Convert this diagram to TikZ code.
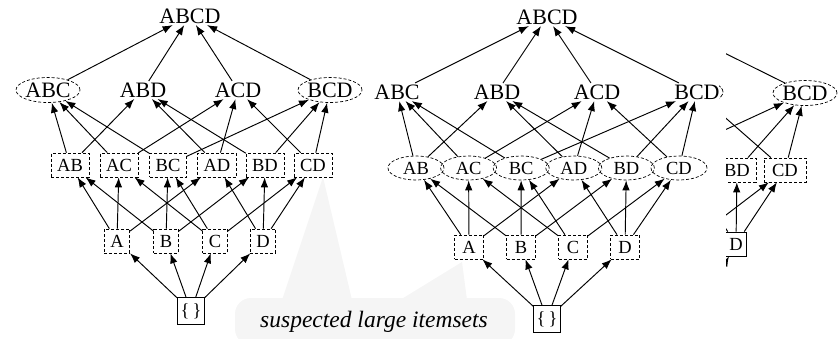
\documentclass[tikz,border=0pt]{standalone}
\usepackage{fontspec}
\setmainfont{Liberation Serif}
\usetikzlibrary{arrows.meta,shapes.geometric}

% edges of the itemset lattice over {A,B,C,D}; #1 is the prefix of the node names
\newcommand\latticeedges[1]{%
  \foreach \s/\t in {ABC/ABCD, ABD/ABCD, ACD/ABCD, BCD/ABCD,
                     AB/ABC, AB/ABD, AC/ABC, AC/ACD, BC/ABC, BC/BCD,
                     AD/ABD, AD/ACD, BD/ABD, BD/BCD, CD/ACD, CD/BCD,
                     A/AB, A/AC, A/AD, B/AB, B/BC, B/BD,
                     C/AC, C/BC, C/CD, D/AD, D/BD, D/CD,
                     E/A, E/B, E/C, E/D}
    \draw[edge] (#1\s) -- (#1\t);%
}

\begin{document}
\begin{tikzpicture}[x=1pt,y=1pt,
  big/.style={font=\fontsize{22}{22}\selectfont},
  small/.style={font=\fontsize{18.5}{18.5}\selectfont},
  plain/.style={inner sep=1.5pt},
  hidden/.style={inner sep=0pt, minimum width=48pt, minimum height=20pt},
  dashline/.style={draw, dash pattern=on 3pt off 2pt, line width=0.7pt},
  dbox/.style={dashline, rectangle, inner xsep=6pt, inner ysep=0pt, minimum height=24pt},
  dell/.style={dashline, ellipse, inner sep=0pt, minimum width=64pt, minimum height=25pt},
  dellsm/.style={dashline, ellipse, inner sep=0pt, minimum width=56pt, minimum height=24pt},
  sbox/.style={draw, line width=0.8pt, rectangle, inner sep=0pt, minimum width=27pt, minimum height=27pt},
  edge/.style={line width=0.95pt, -{Latex[length=10pt,width=7.5pt]}},
  callout/.style={fill=black!4, draw=none}
]
\useasboundingbox (0,0) rectangle (839,-338);

% shaded callout behind the lattices
\fill[callout, rounded corners=16pt] (235,-298) rectangle (515,-345);
\fill[callout] (282,-300) -- (323,-177) -- (352,-300) -- cycle;
\fill[callout] (400,-300) -- (462,-262) -- (467,-300) -- cycle;
\node[font=\fontsize{23.5}{23.5}\selectfont\itshape] (note) at (374,-322) {suspected large itemsets};

% ---------- first lattice ----------
\node[big, plain] (LABCD) at (190,-16) {ABCD};
\node[big, dell]  (LABC)  at (48,-90)  {ABC};
\node[big, plain] (LABD)  at (143,-90) {ABD};
\node[big, plain] (LACD)  at (238,-90) {ACD};
\node[big, dell]  (LBCD)  at (330,-90) {BCD};
\node[small, dbox] (LAB) at (70,-165)  {AB};
\node[small, dbox] (LAC) at (119,-165) {AC};
\node[small, dbox] (LBC) at (168,-165) {BC};
\node[small, dbox] (LAD) at (217,-165) {AD};
\node[small, dbox] (LBD) at (265,-165) {BD};
\node[small, dbox] (LCD) at (313,-165) {CD};
\node[small, dbox] (LA) at (117,-241) {A};
\node[small, dbox] (LB) at (166,-241) {B};
\node[small, dbox] (LC) at (215,-241) {C};
\node[small, dbox] (LD) at (263,-241) {D};
\node[small, sbox] (LE) at (191,-311) {\{\,\}};
\latticeedges{L}

% ---------- second lattice ----------
\node[big, plain] (MABCD) at (547,-17) {ABCD};
\node[big, plain] (MABC)  at (397,-92) {ABC};
\node[big, plain] (MABD)  at (497,-92) {ABD};
\node[big, plain] (MACD)  at (597,-92) {ACD};
\node[big, plain] (MBCD)  at (697,-92) {BCD};
\node[small, dellsm] (MAB) at (416,-168) {AB};
\node[small, dellsm] (MAC) at (468.6,-168) {AC};
\node[small, dellsm] (MBC) at (521.2,-168) {BC};
\node[small, dellsm] (MAD) at (573.8,-168) {AD};
\node[small, dellsm] (MBD) at (626.4,-168) {BD};
\node[small, dellsm] (MCD) at (679,-168) {CD};
\node[small, dbox, minimum width=29pt] (MA) at (469,-247) {A};
\node[small, dbox, minimum width=29pt] (MB) at (521,-247) {B};
\node[small, dbox, minimum width=29pt] (MC) at (573,-247) {C};
\node[small, dbox, minimum width=29pt] (MD) at (625,-247) {D};
\node[small, sbox] (ME) at (547,-319) {\{\,\}};
\latticeedges{M}

% ---------- third lattice, only its right edge shows ----------
\begin{scope}
\clip (726,0) -- (839,0) -- (839,-338) -- (726,-338) -- (726,-101)
      -- (719,-101) -- (719,-83) -- (726,-83) -- cycle;
\node[hidden, minimum width=66pt] (RABCD) at (650,-16) {};
\node[hidden] (RABC)  at (510,-92) {};
\node[hidden] (RABD)  at (605,-92) {};
\node[draw, dash pattern=on 4pt off 1.5pt, line width=0.7pt, ellipse, inner sep=0pt,
      minimum width=54pt, minimum height=24pt] (RACD) at (696,-92) {};
\node[big, dell, minimum width=60pt] (RBCD) at (805,-93) {BCD};
\node[hidden, minimum width=34pt, minimum height=24pt] (RAB) at (540,-170) {};
\node[hidden, minimum width=34pt, minimum height=24pt] (RAC) at (589,-170) {};
\node[hidden, minimum width=34pt, minimum height=24pt] (RBC) at (638,-170) {};
\node[hidden, minimum width=34pt, minimum height=24pt] (RAD) at (687,-170) {};
\node[small, dbox] (RBD) at (737,-170) {BD};
\node[small, dbox, minimum width=42pt] (RCD) at (785,-170) {CD};
\node[hidden, minimum width=24pt, minimum height=24pt] (RA) at (590,-244) {};
\node[hidden, minimum width=24pt, minimum height=24pt] (RB) at (639,-244) {};
\node[hidden, minimum width=24pt, minimum height=24pt] (RC) at (688,-244) {};
\node[small, draw, line width=0.8pt, inner xsep=4pt, inner ysep=0pt, minimum height=24pt] (RD) at (736,-244) {D};
\node[hidden, minimum width=27pt, minimum height=27pt] (RE) at (694,-318) {};
\latticeedges{R}
\end{scope}
\end{tikzpicture}
\end{document}
